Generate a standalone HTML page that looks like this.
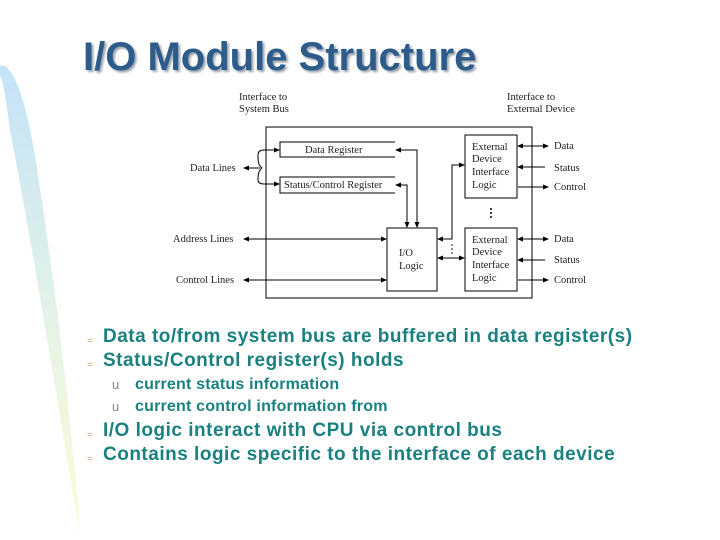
<!DOCTYPE html>
<html><head><meta charset="utf-8"><style>
html,body{margin:0;padding:0;background:#fff;}
body{width:720px;height:540px;position:relative;overflow:hidden;font-family:"Liberation Sans",sans-serif;}
.t{position:absolute;white-space:nowrap;}
.title{left:83px;top:35px;font-size:40px;font-weight:bold;color:#2e5c8a;text-shadow:2px 2px 2px #9aa4ae;}
.b{left:103px;font-size:19px;font-weight:bold;color:#1a8080;letter-spacing:0.5px;}
.s{left:135px;font-size:16px;font-weight:bold;color:#1a8080;letter-spacing:0.2px;}
.m{left:87px;font-size:10px;color:#c8a070;}
.u{left:112px;font-size:13px;color:#888;}
</style></head><body>
<svg width="720" height="540" style="position:absolute;left:0;top:0">
<defs><linearGradient id="g" x1="0" y1="0" x2="0" y2="1">
<stop offset="0" stop-color="#c4e2f8"/><stop offset="0.5" stop-color="#e2f2e8"/><stop offset="1" stop-color="#fdfbd8"/></linearGradient>
<marker id="a" markerWidth="6" markerHeight="6" refX="5" refY="3" orient="auto" markerUnits="userSpaceOnUse"><path d="M0,0.5 L6,3 L0,5.5 Z" fill="#000"/></marker>
</defs>
<path d="M0,66 C8,62 22,80 34,150 C52,260 72,420 80,535 C60,420 35,260 10,130 C6,100 3,80 0,76 Z" fill="url(#g)"/>
<g font-family="Liberation Serif,serif" font-size="10.5" fill="#222">
<text x="239" y="100">Interface to</text><text x="239" y="112">System Bus</text>
<text x="507" y="100">Interface to</text><text x="507" y="112">External Device</text>
<text x="190" y="171">Data Lines</text>
<text x="173" y="242">Address Lines</text>
<text x="176" y="283">Control Lines</text>
<text x="305" y="153">Data Register</text>
<text x="284" y="188">Status/Control Register</text>
<text x="399" y="256">I/O</text><text x="399" y="269">Logic</text>
<text x="472" y="150">External</text><text x="472" y="162">Device</text><text x="472" y="175">Interface</text><text x="472" y="188">Logic</text>
<text x="472" y="243">External</text><text x="472" y="255">Device</text><text x="472" y="268">Interface</text><text x="472" y="281">Logic</text>
<text x="554" y="149">Data</text><text x="554" y="171">Status</text><text x="554" y="190">Control</text>
<text x="554" y="242">Data</text><text x="554" y="263">Status</text><text x="554" y="283">Control</text>
</g>
<g stroke="#000" stroke-width="1" fill="none">
<rect x="266" y="127" width="266" height="171"/>
<path d="M395,142 H280 V157 H395"/>
<path d="M395,177 H280 V193 H395"/>
<rect x="387" y="228" width="50" height="63"/>
<rect x="465" y="135" width="52" height="63"/>
<rect x="465" y="228" width="52" height="63"/>
<path d="M260,168 H244" marker-end="url(#a)"/>
<path d="M262,168 C258,165 258,160 258,156 V155 Q258,150 264,150 H279" marker-end="url(#a)"/>
<path d="M262,168 C258,171 258,176 258,180 Q258,184 264,184 H279" marker-end="url(#a)"/>
<path d="M417,227 V150 H396" marker-end="url(#a)"/>
<path d="M407,227 V185 H396" marker-end="url(#a)"/>
<path d="M407,200 V227" marker-end="url(#a)"/>
<path d="M417,200 V227" marker-end="url(#a)"/>
<path d="M320,239 H244" marker-end="url(#a)"/>
<path d="M300,239 H386" marker-end="url(#a)"/>
<path d="M320,280 H244" marker-end="url(#a)"/>
<path d="M300,280 H386" marker-end="url(#a)"/>
<path d="M452,239 H438" marker-end="url(#a)"/>
<path d="M440,239 H452 V165 H464" marker-end="url(#a)"/>
<path d="M450,258 H438" marker-end="url(#a)"/>
<path d="M445,258 H464" marker-end="url(#a)"/>
<path d="M535,146 H518" marker-end="url(#a)"/><path d="M530,146 H548" marker-end="url(#a)"/>
<path d="M545,167 H518" marker-end="url(#a)"/>
<path d="M518,187 H548" marker-end="url(#a)"/>
<path d="M535,239 H518" marker-end="url(#a)"/><path d="M530,239 H548" marker-end="url(#a)"/>
<path d="M545,260 H518" marker-end="url(#a)"/>
<path d="M518,280 H548" marker-end="url(#a)"/>
</g>
<g fill="#000"><circle cx="491" cy="209" r="1"/><circle cx="491" cy="213" r="1"/><circle cx="491" cy="217" r="1"/>
<circle cx="452" cy="245" r="0.8"/><circle cx="452" cy="249" r="0.8"/><circle cx="452" cy="253" r="0.8"/></g>
</svg>
<div class="t title">I/O Module Structure</div>
<div class="t m" style="top:336px">=</div><div class="t b" style="top:326px">Data to/from system bus are buffered in data register(s)</div>
<div class="t m" style="top:360px">=</div><div class="t b" style="top:350px">Status/Control register(s) holds</div>
<div class="t u" style="top:377px">u</div><div class="t s" style="top:376px">current status information</div>
<div class="t u" style="top:399px">u</div><div class="t s" style="top:398px">current control information from</div>
<div class="t m" style="top:430px">=</div><div class="t b" style="top:420px">I/O logic interact with CPU via control bus</div>
<div class="t m" style="top:454px">=</div><div class="t b" style="top:444px">Contains logic specific to the interface of each device</div>
</body></html>
